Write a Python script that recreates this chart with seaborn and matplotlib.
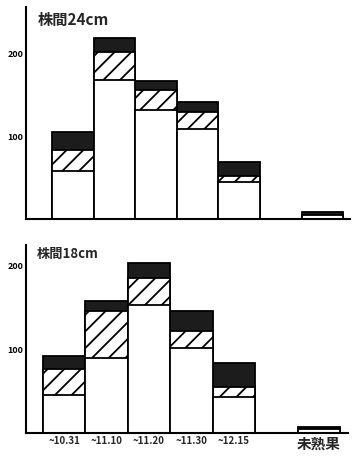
import numpy as np
import pandas as pd
import matplotlib
matplotlib.use("Agg")
import matplotlib.pyplot as plt
import seaborn as sns

# ---- data ----
categories = ["~10.31", "~11.10", "~11.20", "~11.30", "~12.15", "未熟果"]
positions = [0, 1, 2, 3, 4, 6]

white_24 = [58, 168, 132, 109, 45, 5]
hatch_24 = [25, 34, 24, 20, 7, 0]
dark_24 = [22, 16, 11, 12, 17, 3]

white_18 = [45, 89, 153, 102, 43, 4]
hatch_18 = [31, 57, 33, 20, 12, 0]
dark_18 = [16, 12, 17, 24, 28, 3]

ytick_values = [100, 200]
ytick_labels = ["100", "200"]
panel_titles = ["株間24cm", "株間18cm"]

# ---- style ----
sns.set_style("white")
plt.rcParams["font.family"] = ["Noto Sans CJK JP", "DejaVu Sans"]
plt.rcParams["hatch.linewidth"] = 1.3
plt.rcParams["hatch.color"] = "black"

fig = plt.figure(figsize=(3.56, 4.57), dpi=100)
ax_top = fig.add_axes([0.073, 0.521, 0.910, 0.464])
ax_bot = fig.add_axes([0.073, 0.053, 0.905, 0.411])


def draw(ax, white, hatch, dark):
    df = pd.DataFrame({"pos": positions, "white": white, "hatch": hatch, "dark": dark})
    df["mid"] = df["white"] + df["hatch"]
    df["top"] = df["mid"] + df["dark"]
    layers = [("top", "#1c1c1c", None), ("mid", "white", "//"), ("white", "white", None)]
    for col, color, h in layers:
        n0 = len(ax.patches)
        sns.barplot(data=df, x="pos", y=col, native_scale=True, width=1.0,
                    color=color, edgecolor="black", linewidth=1.3,
                    saturation=1, errorbar=None, ax=ax)
        for p in ax.patches[n0:]:
            if h:
                p.set_hatch(h)
    ax.set_xlabel("")
    ax.set_ylabel("")
    ax.set_yticks(ytick_values)
    ax.set_yticklabels(ytick_labels, fontsize=6.5, fontweight="bold")
    for s in ["top", "right"]:
        ax.spines[s].set_visible(False)
    for s in ["left", "bottom"]:
        ax.spines[s].set_linewidth(1.5)
        ax.spines[s].set_color("black")
    ax.tick_params(axis="y", direction="in", length=12, width=1.5, pad=2, colors="black")
    ax.tick_params(axis="x", length=0)


draw(ax_top, white_24, hatch_24, dark_24)
ax_top.set_xlim(-1.125, 6.66)
ax_top.set_ylim(0, 256)
ax_top.set_xticks([])
ax_top.text(0.035, 0.94, panel_titles[0], transform=ax_top.transAxes,
            fontsize=11, fontweight="bold", ha="left", va="center")

draw(ax_bot, white_18, hatch_18, dark_18)
ax_bot.set_xlim(-0.90, 6.69)
ax_bot.set_ylim(0, 225)
ax_bot.set_xticks(positions)
ax_bot.set_xticklabels(categories, fontsize=7, fontweight="bold")
for lbl in ax_bot.get_xticklabels():
    if lbl.get_text() == "未熟果":
        lbl.set_fontsize(10.5)
ax_bot.tick_params(axis="x", pad=2)
ax_bot.text(0.035, 0.95, panel_titles[1], transform=ax_bot.transAxes,
            fontsize=9.5, fontweight="bold", ha="left", va="center")

fig.savefig("out.png", dpi=100)
